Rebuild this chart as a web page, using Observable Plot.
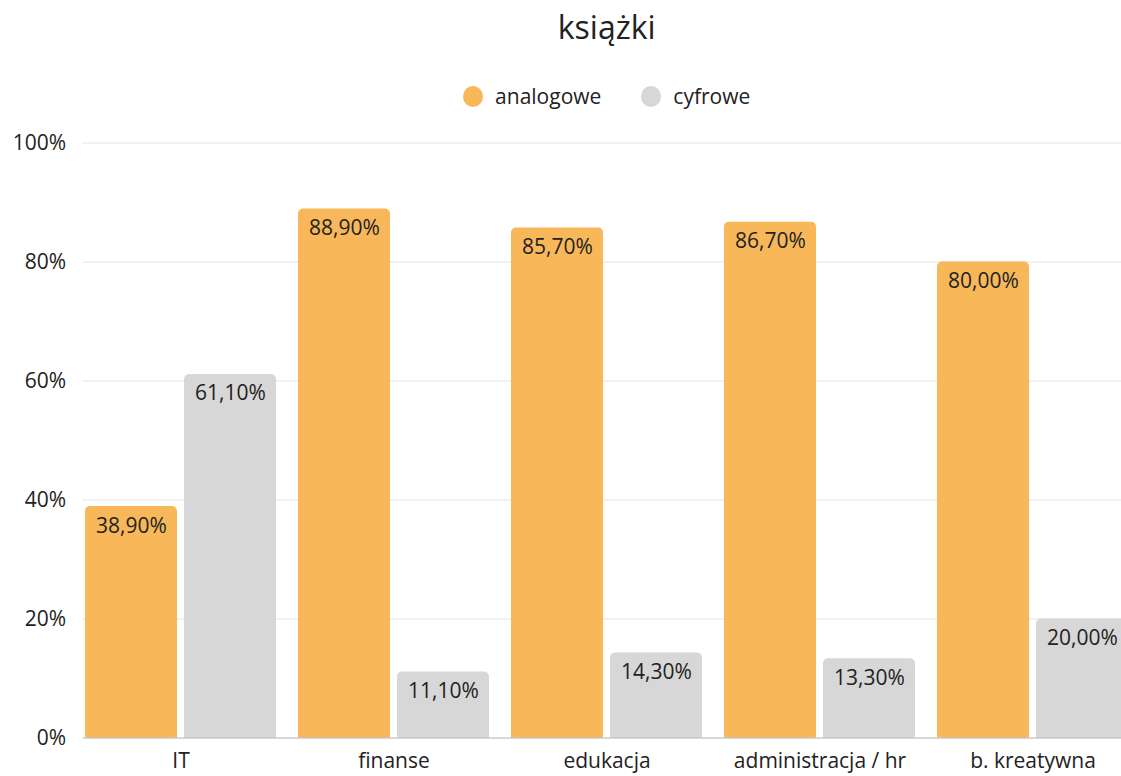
<!DOCTYPE html>
<html lang="pl">
<head>
<meta charset="utf-8">
<title>książki</title>
<script src="https://cdn.jsdelivr.net/npm/d3@7"></script>
<script src="https://cdn.jsdelivr.net/npm/@observablehq/plot@0.6"></script>
<style>
  html, body { margin: 0; padding: 0; background: #fff; overflow: hidden; }
  body { font-family: "Open Sans", sans-serif; color: #222; }
  #page { position: relative; width: 1121px; height: 776px; overflow: hidden; }
  #header { position: relative; height: 120px; }
  #title {
    position: absolute; left: 82.7px; width: 1048px; top: 10.6px;
    text-align: center; font-size: 32px; line-height: 32px; color: #222;
  }
  #legend {
    position: absolute; left: 82.7px; width: 1048px; top: 85.7px;
    display: flex; justify-content: center; align-items: center;
    font-size: 21px; line-height: 21px; color: #222;
  }
  .item { display: flex; align-items: center; margin: 0 20px; }
  .dot { width: 20px; height: 21px; border-radius: 50%; margin-right: 12px; }
  #chart svg { display: block; max-width: none !important; }
</style>
</head>
<body>
<div id="page">
  <div id="header">
    <div id="title"></div>
    <div id="legend"></div>
  </div>
  <div id="chart"></div>
</div>
<script>
// Chart data
const title = "książki";
const categories = ["IT", "finanse", "edukacja", "administracja / hr", "b. kreatywna"];
const seriesNames = ["analogowe", "cyfrowe"];
const analogowe = [38.9, 88.9, 85.7, 86.7, 80.0];
const cyfrowe = [61.1, 11.1, 14.3, 13.3, 20.0];
const yTicks = [0, 20, 40, 60, 80, 100];
const colors = ["#F8B859", "#D7D7D7"];

// Long-format rows built from the arrays above
const rows = categories.flatMap((c, i) => [
  {category: c, series: seriesNames[0], value: analogowe[i]},
  {category: c, series: seriesNames[1], value: cyfrowe[i]}
]);
const fmt = v => v.toFixed(2).replace(".", ",") + "%";

// Title and legend
document.getElementById("title").textContent = title;
const legend = document.getElementById("legend");
seriesNames.forEach((name, i) => {
  const item = document.createElement("div");
  item.className = "item";
  const dot = document.createElement("span");
  dot.className = "dot";
  dot.style.background = colors[i];
  const label = document.createElement("span");
  label.textContent = name;
  item.append(dot, label);
  legend.append(item);
});

// Geometry of the paired bars within each category band
const barW = 93.3;
const inset = 99;     // bandwidth minus bar width
const shift = 49.5;   // offset from band centre to bar centre

const left = rows.filter(d => d.series === seriesNames[0]);
const right = rows.filter(d => d.series === seriesNames[1]);

const barStyle = (data, color, side) => {
  const opts = {x: "category", y: "value", fill: color, rx: 5};
  const base = {x: "category", y1: () => 0, y2: d => d.value / 2, fill: color};
  if (side === "left") { opts.insetRight = inset; base.insetRight = inset; }
  else { opts.insetLeft = inset; base.insetLeft = inset; }
  return [Plot.barY(data, opts), Plot.barY(data, base)];
};

const chart = Plot.plot({
  width: 1142,
  height: 656,
  marginLeft: 82.7,
  marginRight: 11.3,
  marginTop: 22.5,
  marginBottom: 38.5,
  style: {fontFamily: "Open Sans, sans-serif", fontSize: "21px", color: "#222", background: "#fff"},
  x: {domain: categories, paddingInner: 0.1013, paddingOuter: 0, label: null, tickSize: 0, tickPadding: 15},
  y: {domain: [0, 100], ticks: yTicks, tickFormat: d => d + "%", label: null, tickSize: 0, tickPadding: 17},
  marks: [
    Plot.ruleY(yTicks.filter(t => t > 0), {stroke: "#e3e3e3", strokeWidth: 1}),
    ...barStyle(left, colors[0], "left"),
    ...barStyle(right, colors[1], "right"),
    Plot.ruleY([0], {stroke: "#b0b0b0", strokeWidth: 1}),
    Plot.text(left, {x: "category", y: "value", text: d => fmt(d.value), dx: -shift, dy: 26, lineAnchor: "bottom", fill: "#222", fontSize: 21}),
    Plot.text(right, {x: "category", y: "value", text: d => fmt(d.value), dx: shift, dy: 26, lineAnchor: "bottom", fill: "#222", fontSize: 21})
  ]
});
chart.style.maxWidth = "none";
document.getElementById("chart").append(chart);
</script>
</body>
</html>
